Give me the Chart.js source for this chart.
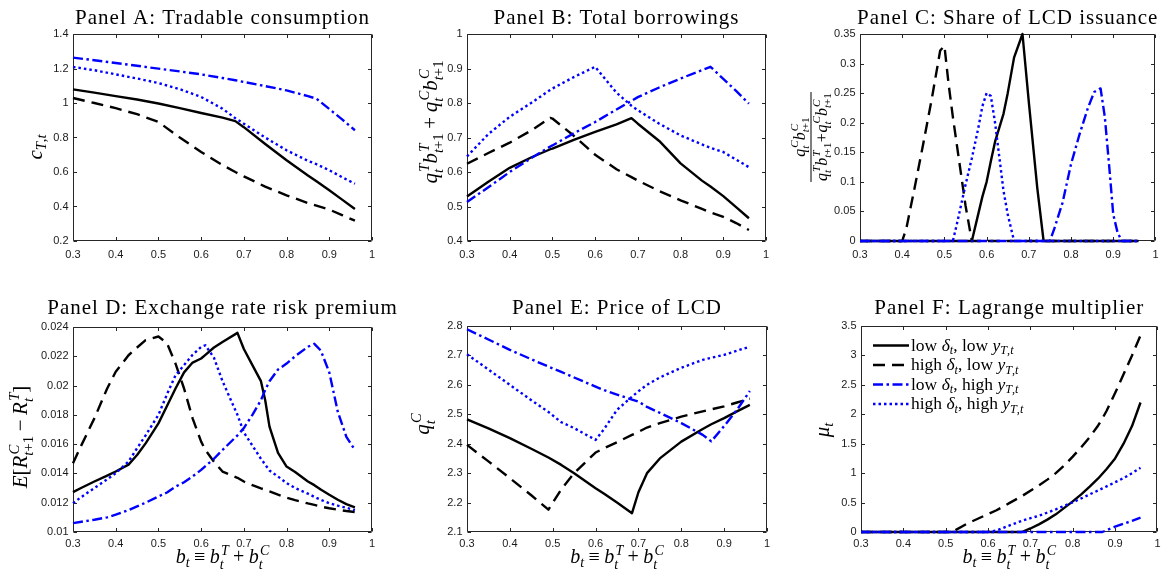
<!DOCTYPE html>
<html lang="en">
<head>
<meta charset="UTF-8">
<title>Model policy functions</title>
<script src="https://cdn.jsdelivr.net/npm/chart.js@4.4.1/dist/chart.umd.min.js"></script>
<style>
  body { margin: 0; background: #fff; }
  #fig { position: relative; width: 1166px; height: 575px; }
  #fig canvas { position: absolute; left: 0; top: 0; }
</style>
</head>
<body>
<div id="fig"></div>
<script>
// ---- data: debt level on the x axis, one array per state ----
const xTicks = [0.3, 0.4, 0.5, 0.6, 0.7, 0.8, 0.9, 1];

// Panel A: tradable consumption
const bA = [0.3, 0.35, 0.4, 0.45, 0.5, 0.55, 0.6, 0.65, 0.68, 0.7, 0.75, 0.8, 0.85, 0.87, 0.9, 0.93, 0.96];
const consLowLow   = [1.079, 1.06, 1.04, 1.02, 0.997, 0.97, 0.942, 0.915, 0.895, 0.86, 0.762, 0.668, 0.58, 0.546, 0.494, 0.44, 0.385];
const consHighLow  = [1.029, 1.0, 0.97, 0.935, 0.89, 0.80, 0.716, 0.64, 0.6, 0.575, 0.515, 0.465, 0.42, 0.405, 0.382, 0.35, 0.318];
const consLowHigh  = [1.263, 1.248, 1.232, 1.216, 1.199, 1.183, 1.166, 1.145, 1.132, 1.122, 1.098, 1.073, 1.04, 1.025, 0.965, 0.905, 0.842];
const consHighHigh = [1.209, 1.19, 1.166, 1.142, 1.116, 1.08, 1.035, 0.967, 0.912, 0.88, 0.8, 0.726, 0.665, 0.645, 0.61, 0.57, 0.532];
const yTicksA = [0.2, 0.4, 0.6, 0.8, 1, 1.2, 1.4];

// Panel B: total borrowings
const bB = [0.3, 0.35, 0.4, 0.45, 0.495, 0.5, 0.55, 0.6, 0.65, 0.685, 0.7, 0.75, 0.8, 0.85, 0.87, 0.9, 0.93, 0.96];
const borrowLowLow   = [0.529, 0.572, 0.612, 0.642, 0.666, 0.668, 0.693, 0.716, 0.738, 0.756, 0.74, 0.69, 0.625, 0.575, 0.558, 0.53, 0.498, 0.466];
const borrowHighLow  = [0.624, 0.655, 0.685, 0.72, 0.757, 0.755, 0.705, 0.65, 0.608, 0.585, 0.575, 0.545, 0.518, 0.493, 0.483, 0.47, 0.452, 0.432];
const borrowLowHigh  = [0.513, 0.556, 0.6, 0.64, 0.674, 0.677, 0.712, 0.745, 0.781, 0.806, 0.817, 0.845, 0.871, 0.895, 0.905, 0.87, 0.835, 0.798];
const borrowHighHigh = [0.645, 0.71, 0.76, 0.8, 0.838, 0.842, 0.875, 0.905, 0.83, 0.792, 0.779, 0.74, 0.706, 0.68, 0.67, 0.658, 0.636, 0.614];
const yTicksB = [0.4, 0.5, 0.6, 0.7, 0.8, 0.9, 1];

// Panel C: share of LCD issuance
const bC = [0.3, 0.4, 0.41, 0.43, 0.45, 0.47, 0.49, 0.5, 0.51, 0.52, 0.53, 0.55, 0.565, 0.58, 0.59, 0.6, 0.61, 0.62, 0.64, 0.65,
            0.665, 0.685, 0.7, 0.72, 0.735, 0.75, 0.76, 0.78, 0.8, 0.82, 0.84, 0.855, 0.87, 0.88, 0.89, 0.9, 0.91, 0.92, 0.96];
const shareLowLow   = [0, 0, 0, 0, 0, 0, 0, 0, 0, 0, 0, 0, 0, 0.045, 0.075, 0.1, 0.135, 0.168, 0.215, 0.25,
                       0.31, 0.35, 0.235, 0.09, 0, 0, 0, 0, 0, 0, 0, 0, 0, 0, 0, 0, 0, 0, 0];
const shareHighLow  = [0, 0, 0.022, 0.092, 0.165, 0.24, 0.322, 0.33, 0.265, 0.21, 0.16, 0.06, 0, 0, 0, 0, 0, 0, 0, 0,
                       0, 0, 0, 0, 0, 0, 0, 0, 0, 0, 0, 0, 0, 0, 0, 0, 0, 0, 0];
const shareLowHigh  = [0, 0, 0, 0, 0, 0, 0, 0, 0, 0, 0, 0, 0, 0, 0, 0, 0, 0, 0, 0,
                       0, 0, 0, 0, 0, 0, 0.02, 0.065, 0.13, 0.18, 0.225, 0.252, 0.258, 0.21, 0.13, 0.045, 0.015, 0, 0];
const shareHighHigh = [0, 0, 0, 0, 0, 0, 0, 0, 0, 0, 0.03, 0.095, 0.14, 0.19, 0.228, 0.25, 0.245, 0.2, 0.085, 0.045,
                       0, 0, 0, 0, 0, 0, 0, 0, 0, 0, 0, 0, 0, 0, 0, 0, 0, 0, 0];
const yTicksC = [0, 0.05, 0.1, 0.15, 0.2, 0.25, 0.3, 0.35];

// Panel D: exchange rate risk premium
const bD = [0.3, 0.32, 0.35, 0.38, 0.4, 0.43, 0.45, 0.47, 0.5, 0.52, 0.54, 0.56, 0.58, 0.6, 0.61, 0.63, 0.65,
            0.685, 0.7, 0.72, 0.74, 0.75, 0.76, 0.78, 0.8, 0.82, 0.85, 0.865, 0.88, 0.9, 0.92, 0.94, 0.96];
const premLowLow   = [0.01272, 0.01302, 0.01345, 0.01385, 0.01413, 0.0146, 0.01526, 0.01605, 0.01742, 0.0186, 0.0198, 0.0209, 0.02157,
                      0.02185, 0.0221, 0.0226, 0.02298, 0.0236, 0.0225, 0.0214, 0.0203, 0.019, 0.0172, 0.0154, 0.01447, 0.0141,
                      0.01345, 0.0132, 0.0129, 0.01254, 0.0122, 0.0119, 0.01168];
const premHighLow  = [0.0147, 0.01595, 0.01776, 0.0198, 0.02094, 0.02207, 0.0226, 0.0231, 0.02335, 0.0229, 0.0215, 0.0198, 0.01776,
                      0.01617, 0.0156, 0.0148, 0.01413, 0.0137, 0.01345, 0.0132, 0.01298, 0.01288, 0.01278, 0.01255, 0.01235,
                      0.01218, 0.01195, 0.01185, 0.01174, 0.01162, 0.01152, 0.01143, 0.01136];
const premLowHigh  = [0.01061, 0.0107, 0.01084, 0.011, 0.01118, 0.0115, 0.01175, 0.012, 0.01243, 0.0127, 0.0131, 0.0134, 0.0138,
                      0.01424, 0.0145, 0.015, 0.0156, 0.0166, 0.0171, 0.018, 0.019, 0.0197, 0.0203, 0.0211, 0.0215, 0.022,
                      0.02265, 0.02285, 0.0224, 0.0209, 0.0182, 0.0165, 0.0156];
const premHighHigh = [0.01197, 0.0124, 0.013, 0.0136, 0.01402, 0.01481, 0.01572, 0.0166, 0.018, 0.0194, 0.0207, 0.0214, 0.0221,
                      0.02264, 0.02275, 0.0219, 0.0203, 0.018, 0.0168, 0.0159, 0.015, 0.0146, 0.0142, 0.01379, 0.01334, 0.013,
                      0.01262, 0.0124, 0.0122, 0.01197, 0.0118, 0.01165, 0.0115];
const yTicksD = [0.01, 0.012, 0.014, 0.016, 0.018, 0.02, 0.022, 0.024];

// Panel E: price of LCD
const bE = [0.3, 0.35, 0.4, 0.45, 0.49, 0.52, 0.55, 0.6, 0.62, 0.65, 0.685, 0.7, 0.72, 0.75, 0.8, 0.85, 0.87, 0.9, 0.93, 0.96];
const priceLowLow   = [2.483, 2.452, 2.419, 2.383, 2.353, 2.328, 2.3, 2.249, 2.23, 2.2, 2.164, 2.235, 2.3, 2.35, 2.407, 2.45, 2.466, 2.487, 2.51, 2.532];
const priceHighLow  = [2.396, 2.34, 2.283, 2.225, 2.176, 2.245, 2.3, 2.37, 2.385, 2.405, 2.43, 2.44, 2.455, 2.47, 2.492, 2.51, 2.517, 2.527, 2.54, 2.553];
const priceLowHigh  = [2.789, 2.754, 2.719, 2.687, 2.662, 2.644, 2.625, 2.594, 2.582, 2.567, 2.55, 2.543, 2.525, 2.505, 2.47, 2.43, 2.408, 2.46, 2.515, 2.579];
const priceHighHigh = [2.704, 2.652, 2.6, 2.548, 2.508, 2.473, 2.453, 2.413, 2.45, 2.515, 2.56, 2.578, 2.6, 2.625, 2.658, 2.685, 2.692, 2.702, 2.716, 2.73];
const yTicksE = [2.1, 2.2, 2.3, 2.4, 2.5, 2.6, 2.7, 2.8];

// Panel F: Lagrange multiplier
const bF = [0.3, 0.4, 0.5, 0.515, 0.55, 0.6, 0.62, 0.65, 0.68, 0.7, 0.72, 0.74, 0.76, 0.78, 0.8, 0.82, 0.84, 0.86, 0.87, 0.88, 0.9, 0.92, 0.94, 0.96];
const multLowLow   = [0, 0, 0, 0, 0, 0, 0, 0, 0, 0.06, 0.13, 0.21, 0.3, 0.41, 0.52, 0.64, 0.77, 0.91, 0.99, 1.07, 1.25, 1.5, 1.8, 2.2];
const multHighLow  = [0, 0, 0, 0, 0.14, 0.305, 0.37, 0.49, 0.61, 0.7, 0.79, 0.89, 1.0, 1.13, 1.28, 1.44, 1.61, 1.81, 1.93, 2.06, 2.36, 2.68, 3.0, 3.34];
const multLowHigh  = [0, 0, 0, 0, 0, 0, 0, 0, 0, 0, 0, 0, 0, 0, 0, 0, 0, 0, 0, 0.03, 0.09, 0.14, 0.19, 0.245];
const multHighHigh = [0, 0, 0, 0, 0, 0, 0.025, 0.11, 0.19, 0.235, 0.275, 0.33, 0.385, 0.445, 0.505, 0.57, 0.64, 0.705, 0.74, 0.775, 0.845, 0.915, 1.0, 1.09];
const yTicksF = [0, 0.5, 1, 1.5, 2, 2.5, 3, 3.5];

// states, in legend order
const deltaLevel = ['low', 'high', 'low', 'high'];
const yLevel = ['low', 'low', 'high', 'high'];

const titles = ['Panel A: Tradable consumption', 'Panel B: Total borrowings', 'Panel C: Share of LCD issuance',
                'Panel D: Exchange rate risk premium', 'Panel E: Price of LCD', 'Panel F: Lagrange multiplier'];

// ---- styles ----
const W = 1166, H = 575;
const SERIF = '"Liberation Serif", "Times New Roman", serif';
const SANS = '"Liberation Sans", Arial, sans-serif';
const AXIS = '#262626';
const LW = 2.4;
const Y_BOX = 45;   // room kept for the y tick labels
const X_BOX = 28;   // room kept for the x tick labels
const lineStyle = [
  { color: '#000000', dash: [] },
  { color: '#000000', dash: [12, 7] },
  { color: '#0000ff', dash: [10, 3.5, 2.5, 3.5] },
  { color: '#0000ff', dash: [2.5, 3] }
];

// ---- little TeX-ish text renderer: letters italic, the rest upright ----
function isLetter(ch) { return /[A-Za-z\u03b1-\u03c9]/.test(ch); }
function glyphFont(ch, size, upright) {
  return (!upright && isLetter(ch) ? 'italic ' : '') + size + 'px ' + SERIF;
}
function runWidth(ctx, str, size, upright) {
  let w = 0;
  for (const ch of str) { ctx.font = glyphFont(ch, size, upright); w += ctx.measureText(ch).width; }
  return w;
}
function drawRun(ctx, str, x, y, size, upright) {
  for (const ch of str) {
    ctx.font = glyphFont(ch, size, upright);
    ctx.fillText(ch, x, y);
    x += ctx.measureText(ch).width;
  }
  return x;
}
function opPad(t, size) { return t.tight ? size * 0.04 : size * 0.22; }
function tokenWidth(ctx, t, size) {
  if (t.op) return runWidth(ctx, t.op, size, true) + 2 * opPad(t, size);
  const s = size * 0.7;
  const base = runWidth(ctx, t.b, size, t.rm);
  const sup = t.sup ? runWidth(ctx, t.sup, s) + size * 0.06 : 0;
  const sub = t.sub ? runWidth(ctx, t.sub, s) : 0;
  return base + Math.max(sup, sub);
}
function mathWidth(ctx, tokens, size) {
  return tokens.reduce((w, t) => w + tokenWidth(ctx, t, size), 0);
}
function drawMath(ctx, tokens, x, y, size) {
  for (const t of tokens) {
    if (t.op) {
      const p = opPad(t, size);
      x = drawRun(ctx, t.op, x + p, y, size, true) + p;
      continue;
    }
    x = drawRun(ctx, t.b, x, y, size, t.rm);
    const s = size * 0.7;
    let w = 0;
    if (t.sup) w = Math.max(w, drawRun(ctx, t.sup, x + size * 0.06, y - size * 0.4, s) - x);
    if (t.sub) w = Math.max(w, drawRun(ctx, t.sub, x, y + size * (t.sup ? 0.28 : 0.2), s) - x);
    x += w;
  }
  return x;
}
function drawRotated(ctx, tokens, size, bx, cy) {
  const w = mathWidth(ctx, tokens, size);
  ctx.save();
  ctx.translate(bx, cy);
  ctx.rotate(-Math.PI / 2);
  drawMath(ctx, tokens, -w / 2, 0, size);
  ctx.restore();
}
function drawRotatedFraction(ctx, num, den, size, lx, cy) {
  const wn = mathWidth(ctx, num, size), wd = mathWidth(ctx, den, size);
  const w = Math.max(wn, wd) + 2;
  ctx.save();
  ctx.translate(lx, cy);
  ctx.rotate(-Math.PI / 2);
  drawMath(ctx, num, -wn / 2, -6.5, size);
  drawMath(ctx, den, -wd / 2, 15.5, size);
  ctx.fillRect(-w / 2, -0.5, w, 1);
  ctx.restore();
}

const qT = { b: 'q', sub: 't', sup: 'T' }, qC = { b: 'q', sub: 't', sup: 'C' };
const bT1 = { b: 'b', sub: 't+1', sup: 'T' }, bC1 = { b: 'b', sub: 't+1', sup: 'C' };
const xLabel = [{ b: 'b', sub: 't' }, { op: '\u2261' }, { b: 'b', sub: 't', sup: 'T' }, { op: '+' }, { b: 'b', sub: 't', sup: 'C' }];

// ---- axes box with inward ticks, MATLAB style ----
const frame = {
  id: 'frame',
  beforeDatasetsDraw(chart) {
    const { ctx, chartArea: a } = chart;
    const L = Math.round(a.left) + 0.5, R = Math.round(a.right) - 0.5;
    const T = Math.round(a.top) + 0.5, B = Math.round(a.bottom) - 0.5;
    const tl = 3.5;
    ctx.save();
    ctx.strokeStyle = AXIS;
    ctx.lineWidth = 1;
    ctx.beginPath();
    ctx.rect(L, T, R - L, B - T);
    chart.scales.x.ticks.forEach(t => {
      const px = Math.round(chart.scales.x.getPixelForValue(t.value)) + 0.5;
      ctx.moveTo(px, B); ctx.lineTo(px, B - tl);
      ctx.moveTo(px, T); ctx.lineTo(px, T + tl);
    });
    chart.scales.y.ticks.forEach(t => {
      const py = Math.round(chart.scales.y.getPixelForValue(t.value)) + 0.5;
      ctx.moveTo(L, py); ctx.lineTo(L + tl, py);
      ctx.moveTo(R, py); ctx.lineTo(R - tl, py);
    });
    ctx.stroke();
    ctx.restore();
  }
};

// ---- titles, axis labels and the legend ----
const labels = {
  id: 'labels',
  afterDraw(chart, args, o) {
    const { ctx, chartArea: a } = chart;
    const cx = (a.left + a.right) / 2;
    ctx.save();
    ctx.fillStyle = '#000';
    ctx.textBaseline = 'alphabetic';

    ctx.font = '21px ' + SERIF;
    ctx.letterSpacing = '1px';
    ctx.textAlign = 'center';
    ctx.fillText(o.title, cx, o.titleY);
    ctx.letterSpacing = '0px';
    ctx.textAlign = 'left';

    if (o.yFrac) drawRotatedFraction(ctx, o.yFrac[0], o.yFrac[1], 16, o.yX, o.yY);
    else drawRotated(ctx, o.yLabel, 21, o.yX, o.yY);

    if (o.xLabel) {
      const w = mathWidth(ctx, xLabel, 20);
      drawMath(ctx, xLabel, cx - w / 2, 563, 20);
    }

    if (o.legend) {
      lineStyle.forEach((st, i) => {
        const y = 345.5 + 19.5 * i;
        ctx.save();
        ctx.strokeStyle = st.color;
        ctx.lineWidth = LW;
        ctx.setLineDash(st.dash);
        ctx.beginPath();
        ctx.moveTo(873, y); ctx.lineTo(909, y);
        ctx.stroke();
        ctx.restore();
        const text = [{ b: deltaLevel[i] + ' ', rm: true }, { b: '\u03b4', sub: 't' },
                      { b: ', ' + yLevel[i] + ' ', rm: true }, { b: 'y', sub: 'T,t' }];
        drawMath(ctx, text, 911, y + 5, 17.5);
      });
    }
    ctx.restore();
  }
};

const panels = [
  { area: [73, 34, 372, 241], b: bA, series: [consLowLow, consHighLow, consLowHigh, consHighHigh], yTicks: yTicksA, xPad: 7.5,
    title: titles[0], titleY: 24, yLabel: [{ b: 'c', sub: 'T,t' }], yX: 42, yY: 147 },
  { area: [467, 34, 766, 241], b: bB, series: [borrowLowLow, borrowHighLow, borrowLowHigh, borrowHighHigh], yTicks: yTicksB, xPad: 7.5,
    title: titles[1], titleY: 24, yLabel: [qT, bT1, { op: '+' }, qC, bC1], yX: 437, yY: 122 },
  { area: [860, 34, 1160, 241], b: bC, series: [shareLowLow, shareHighLow, shareLowHigh, shareHighHigh], yTicks: yTicksC, xPad: 7.5,
    title: titles[2], titleY: 24, yFrac: [[qC, bC1], [qT, bT1, { op: '+', tight: true }, qC, bC1]], yX: 811, yY: 137 },
  { area: [73, 327, 372, 532], b: bD, series: [premLowLow, premHighLow, premLowHigh, premHighHigh], yTicks: yTicksD, xPad: 5.5,
    title: titles[3], titleY: 314, xLabel: true,
    yLabel: [{ b: 'E' }, { b: '[', rm: true }, { b: 'R', sup: 'C', sub: 't+1' }, { op: '\u2212' }, { b: 'R', sup: 'T', sub: 't' }, { b: ']', rm: true }],
    yX: 27, yY: 437 },
  { area: [467, 326, 767, 532], b: bE, series: [priceLowLow, priceHighLow, priceLowHigh, priceHighHigh], yTicks: yTicksE, xPad: 5.5,
    title: titles[4], titleY: 314, xLabel: true, yLabel: [qC], yX: 429, yY: 424 },
  { area: [861, 326, 1160, 532], b: bF, series: [multLowLow, multHighLow, multLowHigh, multHighHigh], yTicks: yTicksF, xPad: 5.5,
    title: titles[5], titleY: 314, xLabel: true, legend: true, yLabel: [{ b: '\u03bc', sub: 't' }], yX: 829, yY: 430 }
];

const tickFont = { family: SANS, size: 11 };
const fmt = v => String(+v.toFixed(4));

panels.forEach(p => {
  const canvas = document.createElement('canvas');
  canvas.width = W;
  canvas.height = H;
  document.getElementById('fig').appendChild(canvas);
  const [l, t, r, bt] = p.area;

  new Chart(canvas, {
    type: 'line',
    data: {
      datasets: p.series.map((vals, i) => ({
        data: p.b.map((x, j) => ({ x, y: vals[j] })),
        borderColor: lineStyle[i].color,
        borderDash: lineStyle[i].dash,
        borderWidth: LW,
        borderCapStyle: 'butt',
        borderJoinStyle: 'round',
        pointRadius: 0,
        tension: 0,
        fill: false,
        clip: false,
        order: 4 - i
      }))
    },
    options: {
      responsive: false,
      animation: false,
      events: [],
      layout: { padding: { left: l - Y_BOX, top: t, right: W - r, bottom: H - bt - X_BOX } },
      plugins: {
        legend: { display: false },
        tooltip: { enabled: false },
        labels: p
      },
      scales: {
        x: {
          type: 'linear', min: 0.3, max: 1,
          afterBuildTicks: s => { s.ticks = xTicks.map(v => ({ value: v })); },
          afterFit: s => { s.height = X_BOX; },
          grid: { display: false, drawTicks: false }, border: { display: false },
          ticks: { autoSkip: false, maxRotation: 0, padding: p.xPad, color: '#1a1a1a', font: tickFont, callback: fmt }
        },
        y: {
          type: 'linear', min: p.yTicks[0], max: p.yTicks[p.yTicks.length - 1],
          afterBuildTicks: s => { s.ticks = p.yTicks.map(v => ({ value: v })); },
          afterFit: s => { s.width = Y_BOX; },
          grid: { display: false, drawTicks: false }, border: { display: false },
          ticks: { padding: 4.5, color: '#1a1a1a', font: tickFont, callback: fmt }
        }
      }
    },
    plugins: [frame, labels]
  });
});
</script>
</body>
</html>
